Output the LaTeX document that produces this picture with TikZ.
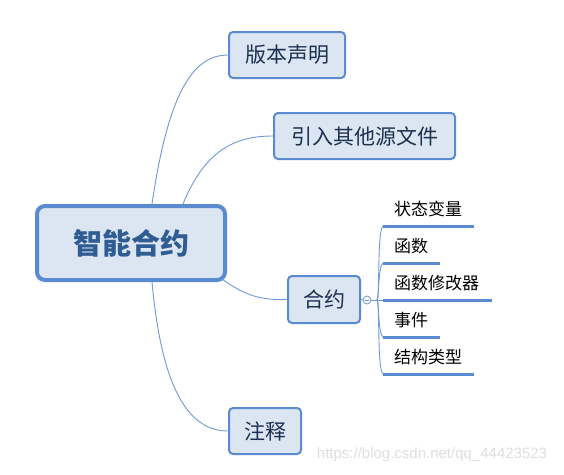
\documentclass[tikz,border=0pt]{standalone}
\usepackage{fontspec}
\newfontfamily\cjk{Noto Sans CJK SC}
\newfontfamily\wmfont{Liberation Sans}
\usetikzlibrary{calc}
\definecolor{bord}{HTML}{5A8AD0}
\definecolor{boxfill}{HTML}{DCE6F2}
\definecolor{conncol}{HTML}{6E98D6}
\definecolor{boxtext}{HTML}{1C3050}
\definecolor{maintext}{HTML}{2F5C92}
\tikzset{
  x=1pt, y=-1pt,
  topic/.style={draw=bord, fill=boxfill, line width=2pt, rounded corners=4pt,
    inner sep=0pt, font=\cjk\fontsize{21}{24}\selectfont, text=boxtext},
  central/.style={draw=bord, fill=boxfill, line width=4pt, rounded corners=8pt,
    inner sep=0pt, minimum width=188pt, minimum height=74pt,
    font=\cjk\bfseries\fontsize{29}{33}\selectfont, text=maintext},
  conn/.style={draw=conncol, line width=0.9pt},
  subtxt/.style={font=\cjk\fontsize{17}{20}\selectfont, text=black, inner sep=0pt, anchor=base west},
  uline/.style={draw=bord, line width=3pt},
}
\begin{document}
\begin{tikzpicture}
\useasboundingbox (0,0) rectangle (564,474);
% nodes
\node[central] (c) at (131,243) {智能合约};
\node[topic, minimum width=116pt, minimum height=46pt] (v) at (287,55) {版本声明};
\node[topic, minimum width=181pt, minimum height=46pt] (i) at (364.5,136) {引入其他源文件};
\node[topic, minimum width=72pt, minimum height=47pt] (h) at (324,299.5) {合约};
\node[topic, minimum width=72pt, minimum height=46pt] (z) at (265,431) {注释};
% connectors from central
\draw[conn] ([xshift=21pt]c.north) .. controls (168,95) and (192,55) .. (v.west);
\draw[conn] ([xshift=52pt]c.north) .. controls (205,150) and (235,136) .. (i.west);
\draw[conn] ([shift={(-5pt,3pt)}]c.south east) .. controls (248,298) and (265,300) .. (h.west);
\draw[conn] ([xshift=21pt]c.south) .. controls (162,392) and (190,431) .. (z.west);
% collapse circle
\node[circle, draw=conncol, fill=white, line width=0.8pt, minimum size=8pt, inner sep=0pt] (k) at (367,300) {};
\draw[conncol, line width=0.8pt] ([xshift=-2.2pt]k.center) -- ([xshift=2.2pt]k.center);
\draw[conn] (h.east) -- (k.west);
\coordinate (j) at (377,300);
\draw[conn] (k.east) -- (j);
% sub items
\coordinate (s1) at (383,226); \coordinate (e1) at (474,226);
\coordinate (s2) at (383,263); \coordinate (e2) at (440,263);
\coordinate (s3) at (383,300); \coordinate (e3) at (492,300);
\coordinate (s4) at (383,337); \coordinate (e4) at (440,337);
\coordinate (s5) at (383,374); \coordinate (e5) at (474,374);
\node[subtxt] (t1) at (394,215) {状态变量};
\node[subtxt] (t2) at (394,252) {函数};
\node[subtxt] (t3) at (394,289) {函数修改器};
\node[subtxt] (t4) at (394,326) {事件};
\node[subtxt] (t5) at (394,363) {结构类型};
\draw[conn] (j) .. controls (380,298) and (377,230) .. (s1);
\draw[conn] (j) .. controls (379,299) and (378,266) .. (s2);
\draw[conn] (j) -- (s3);
\draw[conn] (j) .. controls (379,301) and (378,334) .. (s4);
\draw[conn] (j) .. controls (380,302) and (377,370) .. (s5);
\draw[uline] (s1) -- (e1);
\draw[uline] (s2) -- (e2);
\draw[uline] (s3) -- (e3);
\draw[uline] (s4) -- (e4);
\draw[uline] (s5) -- (e5);
% watermark
\node[font=\wmfont\fontsize{15}{18}\selectfont, text=black!13, inner sep=0pt] (wm) at (432,455) {https://blog.csdn.net/qq\_44423523};
\end{tikzpicture}
\end{document}
